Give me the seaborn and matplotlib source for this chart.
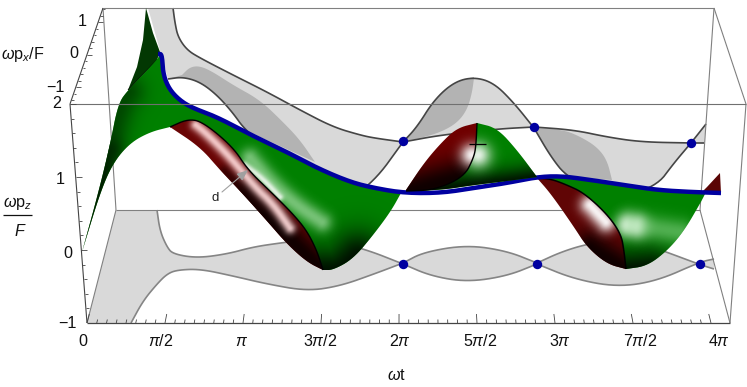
import matplotlib
matplotlib.use("Agg")
import matplotlib.pyplot as plt
import numpy as np
import seaborn as sns
from matplotlib.colors import to_rgb
from matplotlib.patches import Polygon

wall_upper = [(173, 8), (175, 23), (178, 37), (187, 50), (200, 58), (233, 75), (267, 92), (300, 110), (333, 127), (360, 135), (374, 138), (403, 142)]
wall_lower = [(168, 79), (183, 77), (200, 82), (217, 95), (233, 113), (245, 130), (290, 170), (340, 205), (374, 182), (403, 142)]
wall_bump_top = [(403, 142), (417, 127), (434, 100), (454, 82), (474, 77), (494, 83), (514, 103), (534, 128)]
wall_bump_low = [(403, 142), (441, 135), (497, 129), (534, 127)]
wall_flat_top = [(534, 127), (574, 130), (607, 137), (641, 142), (691, 143), (704, 143)]
wall_flat_low = [(534, 128), (551, 157), (567, 177), (610, 200), (656, 187), (674, 163), (691, 143), (706, 124)]
wall_dark_a = [(182, 75), (190, 67), (200, 66), (213, 72), (233, 85), (260, 100), (283, 122), (300, 140), (315, 162)]
wall_dark_b = [(474, 78), (472, 93), (467, 110), (457, 123), (441, 132), (421, 138), (404, 141)]
wall_dark_c = [(537, 128), (564, 130), (581, 137), (597, 147), (607, 160), (612, 180)]

floor_upper = [(157, 210), (160, 231), (167, 247), (173, 254), (197, 258), (227, 254), (253, 247), (280, 243), (320, 238), (365, 249), (403, 264)]
floor_lower = [(131, 323), (143, 301), (157, 284), (167, 274), (177, 270), (200, 269), (233, 276), (267, 284), (307, 291), (340, 286), (374, 274), (403, 263)]
floor_lobe2_top = [(403, 263), (424, 252), (467, 245), (507, 251), (537, 263)]
floor_lobe2_low = [(403, 264), (431, 276), (467, 282), (507, 276), (537, 264)]
floor_lobe3_top = [(537, 263), (561, 252), (587, 244), (625, 238), (661, 250), (701, 265), (714, 269)]
floor_lobe3_low = [(537, 264), (574, 279), (617, 287), (657, 281), (700, 262), (714, 259)]

blue_path = [(158, 54), (162, 54), (163, 73), (168, 87), (177, 98), (190, 107), (217, 117), (247, 133), (283, 150), (317, 168), (350, 182), (374, 188), (404, 193), (441, 193), (474, 188), (507, 183), (537, 177), (561, 176), (591, 180), (624, 185), (657, 190), (691, 192), (721, 193)]
blue_dots_x = [403, 537, 700, 403, 534, 691]
blue_dots_y = [264, 264, 264, 141, 127, 143]

spike = [(146, 8), (143, 40), (137, 67), (128, 90), (157, 60), (160, 52), (153, 33), (148, 15)]
wing_left = [(82, 252), (98, 194), (110, 145), (118, 104), (128, 90), (157, 60), (160, 54)]
wing_inner = [(170, 127), (150, 132), (130, 143), (113, 163), (100, 193), (82, 252)]
lobe1_edge = [(170, 127), (188, 119), (203, 122), (233, 147), (248, 170), (272, 193), (293, 214), (307, 231), (317, 251), (323, 270)]
lobe1_left = [(170, 127), (200, 147), (220, 170), (242, 193), (267, 221), (287, 244), (307, 262), (323, 270)]
lobe1_bottom = [(323, 270), (333, 270), (353, 259), (374, 234), (391, 211), (401, 193)]
mid_left = [(406, 190), (424, 163), (441, 143), (457, 128), (477, 123)]
mid_edge = [(477, 123), (476, 145), (474, 157), (464, 177), (434, 190), (406, 191)]
mid_right = [(477, 123), (497, 128), (517, 150), (537, 177)]
mid_bottom = [(537, 177), (507, 181), (474, 185), (441, 190), (406, 191)]
lobe3_edge = [(537, 178), (551, 179), (567, 185), (584, 193), (607, 214), (621, 234), (624, 251), (626, 269)]
lobe3_left = [(537, 178), (551, 194), (574, 227), (587, 247), (607, 264), (626, 269)]
lobe3_bottom = [(626, 269), (647, 266), (667, 251), (684, 231), (701, 202), (706, 192)]
end_spike = [(702, 192), (707, 187), (720, 173), (721, 193)]

x_major = [87, 165, 243, 321, 399, 477, 555, 633, 711]
x_labels = ["0", r"$\mathit{\pi}$/2", r"$\mathit{\pi}$", r"3$\mathit{\pi}$/2", r"2$\mathit{\pi}$", r"5$\mathit{\pi}$/2", r"3$\mathit{\pi}$", r"7$\mathit{\pi}$/2", r"4$\mathit{\pi}$"]
x_label_pos = [83, 161, 242, 320, 400, 480, 560, 640, 719]
z_major = [104, 180, 253, 323]
z_labels = ["2", "1", "0", "\u22121"]
z_label_right = [61, 65, 72, 77]
px_major = [22, 53, 87]
px_labels = ["1", "0", "\u22121"]
px_label_right = [87, 78, 65]

GREY_FILL = "#d9d9d9"
GREY_DARK = "#b3b3b3"
BOX = "#808080"

sns.set_theme(style="white")
plt.rcParams["font.family"] = ["Liberation Sans", "DejaVu Sans"]
plt.rcParams["mathtext.fontset"] = "custom"
plt.rcParams["mathtext.rm"] = "Liberation Sans"
plt.rcParams["mathtext.it"] = "Liberation Sans:italic"
plt.rcParams["mathtext.default"] = "regular"

fig = plt.figure(figsize=(7.47, 3.87), dpi=100)
ax = fig.add_axes([0, 0, 1, 1])
ax.set_xlim(0, 747)
ax.set_ylim(387, 0)
ax.axis("off")


def smooth(points, rounds=3):
    """Corner cutting, the end points stay where they are."""
    pts = np.asarray(points, dtype=float)
    for _ in range(rounds):
        q = 0.75 * pts[:-1] + 0.25 * pts[1:]
        r = 0.25 * pts[:-1] + 0.75 * pts[1:]
        mid = np.empty((2 * len(q), 2))
        mid[0::2] = q
        mid[1::2] = r
        pts = np.vstack([pts[:1], mid, pts[-1:]])
    return pts


def curve(points, color, lw, z, do_smooth=True):
    pts = smooth(points) if do_smooth else np.asarray(points, dtype=float)
    sns.lineplot(x=pts[:, 0], y=pts[:, 1], sort=False, estimator=None, color=color,
                 linewidth=lw, zorder=z, ax=ax, legend=False,
                 solid_capstyle="butt", solid_joinstyle="round")


def patch(points, color, z):
    p = Polygon(points, closed=True, facecolor=color, edgecolor="none", zorder=z)
    ax.add_patch(p)
    return p


def glow(clip, path, sigma, color, alpha, z):
    """Soft shading around a path, cut to the shape of a surface."""
    pts = smooth(path, 2) if len(path) > 1 else np.vstack([path, path])
    yy, xx = np.mgrid[0:387, 0:747]
    xx = xx + 0.5
    yy = yy + 0.5
    d2 = np.full(xx.shape, np.inf)
    for (ax0, ay0), (bx0, by0) in zip(pts[:-1], pts[1:]):
        dx, dy = bx0 - ax0, by0 - ay0
        t = np.clip(((xx - ax0) * dx + (yy - ay0) * dy) / max(dx * dx + dy * dy, 1e-9), 0, 1)
        d2 = np.minimum(d2, (xx - ax0 - t * dx) ** 2 + (yy - ay0 - t * dy) ** 2)
    img = np.zeros(xx.shape + (4,))
    img[..., :3] = to_rgb(color)
    img[..., 3] = alpha * np.exp(-d2 / (2 * sigma ** 2))
    im = ax.imshow(img, extent=(0, 747, 387, 0), aspect="auto", zorder=z, interpolation="bilinear")
    im.set_clip_path(clip)


# floor shadow
floor = np.vstack([[(87, 323), (116, 210)], smooth(floor_upper), smooth(floor_lobe2_top)[1:], smooth(floor_lobe3_top)[1:],
                   smooth(floor_lobe3_low)[::-1], smooth(floor_lobe2_low)[::-1], smooth(floor_lower)[::-1]])
patch(floor, GREY_FILL, 1)
for c in (floor_upper, floor_lower, floor_lobe2_top, floor_lobe2_low, floor_lobe3_top, floor_lobe3_low):
    curve(c, "#858585", 1.2, 2)

# back wall shadow
patch(np.vstack([[(148, 8)], smooth(wall_upper), smooth(wall_lower)[::-1]]), GREY_FILL, 1)
patch(np.vstack([smooth(wall_bump_top), smooth(wall_bump_low)[::-1]]), GREY_FILL, 1)
patch(np.vstack([smooth(wall_flat_top), smooth(wall_flat_low)[::-1]]), GREY_FILL, 1)
patch(np.vstack([smooth(wall_dark_a), smooth(wall_lower[:6])[::-1]]), GREY_DARK, 1.5)
patch(np.vstack([smooth(wall_bump_top[:5]), smooth(wall_dark_b)]), GREY_DARK, 1.5)
patch(np.vstack([smooth(wall_dark_c), smooth(wall_flat_low[:3])[::-1]]), GREY_DARK, 1.5)
for c in (wall_upper, wall_lower, wall_bump_top, wall_bump_low, wall_flat_top, wall_flat_low):
    curve(c, "#454545", 1.2, 2)

# box, back part
for a, b in [((103, 8), (714, 8)), ((103, 8), (116, 210)), ((116, 210), (700, 210)), ((714, 8), (700, 210)),
             ((116, 210), (87, 323)), ((700, 210), (730, 323)), ((714, 8), (746, 104)), ((746, 104), (730, 323))]:
    curve([a, b], BOX, 0.8, 2.5, do_smooth=False)

# dark spike at the far left
spike_patch = patch(spike, "#033803", 3)
curve([(128, 90), (157, 60)], "black", 0.7, 3.1, do_smooth=False)

# first sheet
blue_a = smooth(blue_path[1:13])
green1 = np.vstack([smooth(wing_left), blue_a, smooth(lobe1_bottom)[::-1], smooth(lobe1_edge)[::-1], smooth(wing_inner)[1:]])
g1 = patch(green1, "#008000", 3.2)
glow(g1, [(80, 255), (98, 195), (108, 150)], 9, "#001a00", 0.95, 3.3)
glow(g1, [(108, 150), (118, 108), (128, 92)], 12, "#003000", 0.7, 3.3)
glow(g1, [(323, 274), (340, 274), (358, 258)], 19, "#000c00", 0.98, 3.3)
glow(g1, [(250, 158), (272, 184), (296, 205), (322, 222)], 7, "#c4eec4", 0.6, 3.4)
glow(g1, [(245, 165), (262, 178), (280, 197)], 2.5, "#ffffff", 0.8, 3.4)
red1 = np.vstack([smooth(lobe1_edge), smooth(lobe1_left)[::-1]])
r1 = patch(red1, "#6a0505", 3.5)
glow(r1, [(245, 195), (285, 235), (320, 268)], 12, "#0c0000", 0.95, 3.6)
glow(r1, [(225, 172), (260, 205)], 5, "#200000", 0.6, 3.6)
glow(r1, [(196, 125), (207, 134), (230, 157), (255, 187), (273, 204), (290, 228)], 4, "#ffdada", 0.9, 3.7)
curve(lobe1_edge, "black", 1.0, 3.9)

# middle sheet
g2 = patch(np.vstack([smooth(mid_right), smooth(mid_bottom)[1:], smooth(mid_edge)[::-1]]), "#008000", 6)
glow(g2, [(406, 195), (474, 190), (537, 182)], 12, "#000a00", 0.98, 6.1)
glow(g2, [(478, 155)], 9, "#ffffff", 0.9, 6.2)
r2 = patch(np.vstack([smooth(mid_left), smooth(mid_edge)]), "#700000", 6.3)
glow(r2, [(410, 192), (435, 185), (462, 178)], 15, "#0a0000", 0.95, 6.4)
glow(r2, [(472, 155)], 8, "#ffffff", 0.95, 6.5)
curve(mid_edge, "black", 1.0, 6.9)
curve([(469, 144), (486, 144)], "black", 0.9, 6.9, do_smooth=False)

# last sheet
blue_c = smooth(blue_path[16:21])
g3 = patch(np.vstack([blue_c, smooth(lobe3_bottom)[::-1], smooth(lobe3_edge)[::-1]]), "#008000", 3.2)
glow(g3, [(626, 274), (650, 272)], 17, "#000c00", 0.98, 3.3)
glow(g3, [(628, 225), (636, 226)], 8, "#ffffff", 0.95, 3.4)
glow(g3, [(632, 225), (680, 232)], 9, "#90d890", 0.55, 3.4)
r3 = patch(np.vstack([smooth(lobe3_edge), smooth(lobe3_left)[::-1]]), "#600505", 3.5)
glow(r3, [(590, 248), (625, 270)], 12, "#0c0000", 0.95, 3.6)
glow(r3, [(590, 205), (606, 222)], 7, "#ffffff", 0.95, 3.7)
curve(lobe3_edge, "black", 1.1, 3.9)
patch(end_spike, "#5a0505", 3.5)

# blue ridge line, with the dots on its two shadows
curve(blue_path, "#0000a0", 3.2, 5)
sns.scatterplot(x=blue_dots_x, y=blue_dots_y, color="#0000a0", s=46, linewidth=0, zorder=7, ax=ax, legend=False)

# box, front part
curve([(70, 104), (746, 104)], "#707070", 0.8, 8, do_smooth=False)
curve([(103, 8), (70, 104)], "#444444", 0.8, 8, do_smooth=False)
curve([(70, 104), (87, 323)], "#444444", 0.8, 8, do_smooth=False)
curve([(87, 323), (730, 323)], "#444444", 0.9, 8, do_smooth=False)


def left_edge_x(y):
    return 70 + (y - 104) * 17 / 219


def back_edge_x(y):
    return 103 - (y - 8) * 33 / 96


# ticks on the time axis lean towards the back of the box
for i in range(8 * 8 + 1):
    x = x_major[0] + i * (x_major[1] - x_major[0]) / 8
    h = 9 if i % 8 == 0 else 3.5
    lean = 0.257 - (x - 87) / 643 * 0.522
    curve([(x, 323), (x + lean * h, 323 - h)], "#444444", 0.6, 8, do_smooth=False)
for i in range(3 * 5):
    y = z_major[0] + i * (z_major[-1] - z_major[0]) / 15
    h = 6 if i % 5 == 0 else 3
    curve([(left_edge_x(y), y), (left_edge_x(y) + h, y)], "#444444", 0.6, 8, do_smooth=False)
for i in range(-2, 13):
    y = px_major[0] + i * (px_major[-1] - px_major[0]) / 10
    h = 5 if i % 5 == 0 else 2.5
    curve([(back_edge_x(y), y), (back_edge_x(y) + h, y)], "#444444", 0.6, 8, do_smooth=False)

FS = 11.6
for x, lab in zip(x_label_pos, x_labels):
    ax.text(x, 341, lab, ha="center", va="center", fontsize=FS, color="#111111", zorder=9)
for y, x, lab in zip(z_major, z_label_right, z_labels):
    ax.text(x, y, lab, ha="right", va="center", fontsize=FS, color="#111111", zorder=9)
for y, x, lab in zip(px_major, px_label_right, px_labels):
    ax.text(x, y, lab, ha="right", va="center", fontsize=FS, color="#111111", zorder=9)

ax.text(23, 54, r"$\mathit{\omega}$p$_{\mathit{x}}$/F", ha="center", va="center", fontsize=FS, color="#111111", zorder=9)
ax.text(18, 203, r"$\mathit{\omega}$p$_{\mathit{z}}$", ha="center", va="center", fontsize=FS, color="#111111", zorder=9)
curve([(3, 215), (32, 215)], "#111111", 0.9, 9, do_smooth=False)
ax.text(20, 231, r"$\mathit{F}$", ha="center", va="center", fontsize=FS, color="#111111", zorder=9)
ax.text(396, 375, r"$\mathit{\omega}$t", ha="center", va="center", fontsize=FS, color="#111111", zorder=9)

ax.text(215, 198, "d", ha="center", va="center", fontsize=9.5, color="#222222", zorder=9)
ax.annotate("", xy=(248, 170), xytext=(222, 192), zorder=9,
            arrowprops=dict(arrowstyle="-|>,head_width=0.22,head_length=0.55", color="#a0a0a0", lw=0.8, shrinkA=0, shrinkB=0))

ax.set_xlim(0, 747)
ax.set_ylim(387, 0)
fig.savefig("out.png", dpi=100)
